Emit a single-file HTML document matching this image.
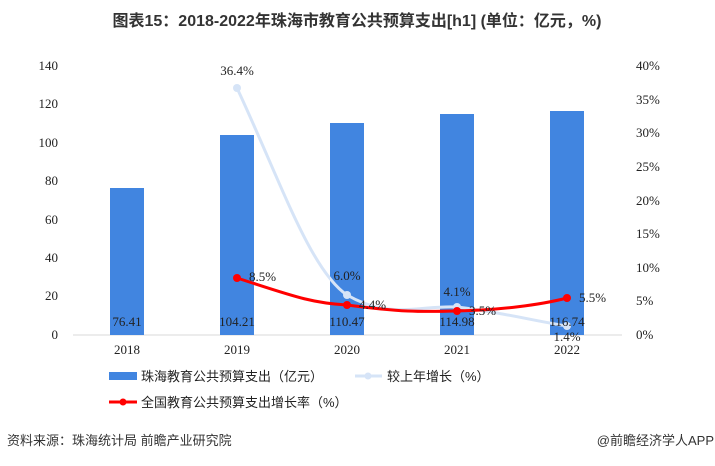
<!DOCTYPE html>
<html><head><meta charset="utf-8"><style>
body{margin:0;width:715px;height:461px;background:#fff;overflow:hidden}
svg text{font-family:"Liberation Serif","Noto Serif CJK SC",serif;font-size:13px;fill:#222}
.cj{font-family:"Liberation Sans","Noto Sans CJK SC",sans-serif}
</style></head><body>
<svg width="715" height="461" xmlns="http://www.w3.org/2000/svg">
<text x="357" y="26" text-anchor="middle" class="cj" style="font-size:16px;font-weight:bold;fill:#333">图表15：2018-2022年珠海市教育公共预算支出[h1] (单位：亿元，%)</text>
<g text-anchor="end">
<text x="58" y="70">140</text><text x="58" y="108">120</text><text x="58" y="147">100</text>
<text x="58" y="185">80</text><text x="58" y="224">60</text><text x="58" y="262">40</text>
<text x="58" y="300">20</text><text x="58" y="339">0</text>
</g>
<g text-anchor="start">
<text x="636" y="70">40%</text><text x="636" y="104">35%</text><text x="636" y="137">30%</text>
<text x="636" y="171">25%</text><text x="636" y="205">20%</text><text x="636" y="238">15%</text>
<text x="636" y="272">10%</text><text x="636" y="305">5%</text><text x="636" y="339">0%</text>
</g>
<line x1="73" y1="335" x2="622" y2="335" stroke="#d9d9d9"/>
<g fill="#4185e0">
<rect x="110" y="188" width="34" height="147"/>
<rect x="220" y="135" width="34" height="200"/>
<rect x="330" y="123" width="34" height="212"/>
<rect x="440" y="114" width="34" height="221"/>
<rect x="550" y="111" width="34" height="224"/>
</g>
<path d="M237,88 C280,180 310,270 347,295 C390,320 420,305 457,307 C500,312 540,322 567,326" fill="none" stroke="#d6e4f7" stroke-width="3"/>
<g fill="#d6e4f7"><circle cx="237" cy="88" r="4"/><circle cx="347" cy="295" r="4"/><circle cx="457" cy="307" r="4"/><circle cx="567" cy="326" r="4"/></g>
<path d="M237,278 C290,295 310,303 347,305 C400,312 420,312 457,311 C500,310 540,305 567,298" fill="none" stroke="#f00" stroke-width="3"/>
<g fill="#f00"><circle cx="237" cy="278" r="4"/><circle cx="347" cy="305" r="4"/><circle cx="457" cy="311" r="4"/><circle cx="567" cy="298" r="4"/></g>
<g text-anchor="middle">
<text x="127" y="326">76.41</text><text x="237" y="326">104.21</text><text x="347" y="326">110.47</text>
<text x="457" y="326">114.98</text><text x="567" y="326">116.74</text>
<text x="237" y="75">36.4%</text><text x="347" y="280">6.0%</text><text x="457" y="296">4.1%</text><text x="567" y="341">1.4%</text>
<text x="127" y="354">2018</text><text x="237" y="354">2019</text><text x="347" y="354">2020</text><text x="457" y="354">2021</text><text x="567" y="354">2022</text>
</g>
<text x="249" y="281">8.5%</text><text x="359" y="309">4.4%</text><text x="469" y="315">3.5%</text><text x="579" y="302">5.5%</text>
<rect x="109" y="372" width="28" height="8" fill="#4185e0"/>
<text x="141" y="381" class="cj" style="font-size:13px">珠海教育公共预算支出（亿元）</text>
<line x1="355" y1="376" x2="382" y2="376" stroke="#d6e4f7" stroke-width="3"/><circle cx="368" cy="376" r="3.5" fill="#d6e4f7"/>
<text x="387" y="381" class="cj" style="font-size:13px">较上年增长（%）</text>
<line x1="109" y1="402" x2="137" y2="402" stroke="#f00" stroke-width="3"/><circle cx="123" cy="402" r="3.5" fill="#f00"/>
<text x="141" y="407" class="cj" style="font-size:13px">全国教育公共预算支出增长率（%）</text>
<text x="7" y="445" class="cj" style="font-size:13px;fill:#333">资料来源：珠海统计局 前瞻产业研究院</text>
<text x="714" y="445" text-anchor="end" class="cj" style="font-size:13px;fill:#333">@前瞻经济学人APP</text>
</svg>
</body></html>
